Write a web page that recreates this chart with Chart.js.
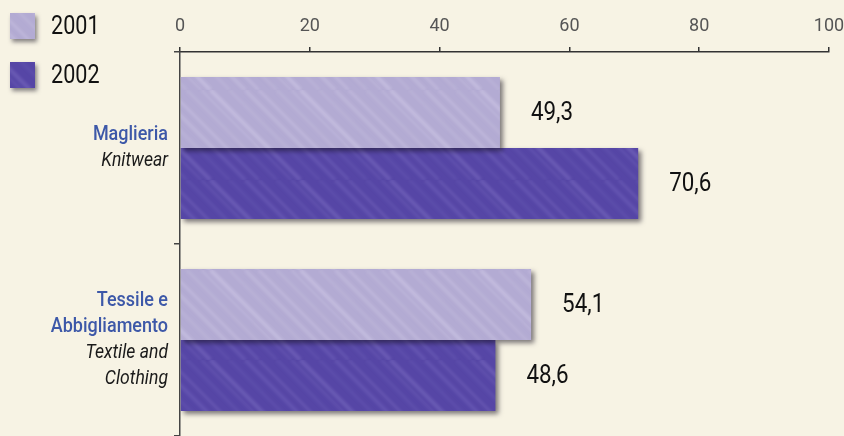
<!DOCTYPE html>
<html>
<head>
<meta charset="utf-8">
<script src="https://cdn.jsdelivr.net/npm/chart.js@4"></script>
<style>
  html, body { margin: 0; padding: 0; background: #f7f3e4; }
  #wrap { width: 844px; height: 436px; position: relative; }
</style>
</head>
<body>
<div id="wrap"><canvas id="c"></canvas></div>
<script>
// ---- data ----
const categories = ['Maglieria', 'Tessile e Abbigliamento'];
const categoryLabelsIt = [['Maglieria'], ['Tessile e', 'Abbigliamento']];
const categoryLabelsEn = [['Knitwear'], ['Textile and', 'Clothing']];
const seriesNames = ['2001', '2002'];
const values2001 = [49.3, 54.1];
const values2002 = [70.6, 48.6];
const xTicks = [0, 20, 40, 60, 80, 100];

// ---- styles ----
const FONT = 'Roboto, "DejaVu Sans Condensed", sans-serif';
const BG = '#f7f3e4';
const streakOffsets = [6, 19, 27, 44, 58, 70];
const streakWidths  = [3, 2, 4, 2.5, 3.5, 2];

function makePattern(base, light, alpha) {
  const w = 90, h = 90;
  const cv = document.createElement('canvas');
  cv.width = w; cv.height = h;
  const g = cv.getContext('2d');
  g.fillStyle = base;
  g.fillRect(0, 0, w, h);
  g.strokeStyle = light;
  g.filter = 'blur(1.5px)';
  for (let i = 0; i < streakOffsets.length; i++) {
    g.globalAlpha = alpha * (0.5 + 0.5 * ((i % 3) / 2));
    g.lineWidth = streakWidths[i];
    for (const shift of [-w, 0, w]) {
      const c = streakOffsets[i] * (w / 80) + shift;
      g.beginPath();
      g.moveTo(c, 0);
      g.lineTo(c + w, h);
      g.stroke();
    }
  }
  g.globalAlpha = 1;
  g.filter = 'none';
  const ctx = document.getElementById('c').getContext('2d');
  return ctx.createPattern(cv, 'repeat');
}

const pat2001 = makePattern('#b3abd3', '#d6d1ea', 0.45);
const pat2002 = makePattern('#5646a6', '#7d70c4', 0.5);
const colors = [pat2001, pat2002];

function drawCondensed(ctx, txt, x, y, sx) {
  ctx.save();
  ctx.translate(x, y);
  ctx.scale(sx, 1);
  ctx.fillText(txt, 0, 0);
  ctx.restore();
}

// ---- plugins ----
const bgPlugin = {
  id: 'bg',
  beforeDraw(chart) {
    const ctx = chart.ctx;
    ctx.save();
    ctx.fillStyle = BG;
    ctx.fillRect(0, 0, chart.width, chart.height);
    ctx.restore();
  }
};

const shadowPlugin = {
  id: 'shadow',
  beforeDatasetsDraw(chart) {
    const ctx = chart.ctx;
    ctx.save();
    ctx.shadowColor = 'rgba(20,15,30,0.55)';
    ctx.shadowBlur = 5;
    ctx.shadowOffsetX = 3;
    ctx.shadowOffsetY = 3;
  },
  afterDatasetsDraw(chart) {
    chart.ctx.restore();
  }
};

const labelPlugin = {
  id: 'labels',
  afterDatasetsDraw(chart) {
    const ctx = chart.ctx;
    ctx.save();
    ctx.fillStyle = '#111';
    ctx.font = '26px ' + FONT;
    ctx.textAlign = 'left';
    ctx.textBaseline = 'middle';
    chart.data.datasets.forEach((ds, di) => {
      const meta = chart.getDatasetMeta(di);
      meta.data.forEach((bar, i) => {
        const txt = ds.data[i].toFixed(1).replace('.', ',');
        drawCondensed(ctx, txt, bar.x + 31, bar.y + 1, 0.86);
      });
    });
    ctx.restore();
  }
};

const catLabelPlugin = {
  id: 'catLabels',
  afterDraw(chart) {
    const ctx = chart.ctx;
    const y = chart.scales.y;
    const xr = chart.chartArea.left - 12;
    ctx.save();
    ctx.textAlign = 'right';
    ctx.textBaseline = 'middle';
    const lh = 26;
    categories.forEach((c, i) => {
      const cy = y.getPixelForValue(i);
      const it = categoryLabelsIt[i], en = categoryLabelsEn[i];
      const n = it.length + en.length;
      let ly = cy - (n - 1) * lh / 2;
      ctx.font = '500 20px ' + FONT;
      ctx.fillStyle = '#3d58a8';
      it.forEach(t => { drawCondensed(ctx, t, xr, ly, 0.9); ly += lh; });
      ctx.font = 'italic 400 20px ' + FONT;
      ctx.fillStyle = '#1a1a1a';
      en.forEach(t => { drawCondensed(ctx, t, xr, ly, 0.88); ly += lh; });
    });
    ctx.restore();
  }
};

const legendPlugin = {
  id: 'customLegend',
  afterDraw(chart) {
    const ctx = chart.ctx;
    const items = [{ y: 13 }, { y: 62 }];
    chart.data.datasets.forEach((ds, i) => {
      const top = items[i].y;
      ctx.save();
      ctx.shadowColor = 'rgba(20,15,30,0.5)';
      ctx.shadowBlur = 4;
      ctx.shadowOffsetX = 2;
      ctx.shadowOffsetY = 3;
      ctx.fillStyle = ds.backgroundColor;
      ctx.fillRect(10, top, 25, 26);
      ctx.restore();
      ctx.save();
      ctx.fillStyle = '#111';
      ctx.font = '26px ' + FONT;
      ctx.textAlign = 'left';
      ctx.textBaseline = 'middle';
      drawCondensed(ctx, ds.label, 51, top + 14, 0.83);
      ctx.restore();
    });
  }
};

new Chart(document.getElementById('c'), {
  type: 'bar',
  data: {
    labels: categories,
    datasets: [
      { label: seriesNames[0], data: values2001, backgroundColor: colors[0], borderWidth: 0 },
      { label: seriesNames[1], data: values2002, backgroundColor: colors[1], borderWidth: 0 }
    ]
  },
  options: {
    indexAxis: 'y',
    responsive: true,
    maintainAspectRatio: false,
    animation: false,
    devicePixelRatio: 1,
    layout: { padding: { left: 172, right: 15, top: 0, bottom: 0 } },
    plugins: {
      legend: { display: false },
      tooltip: { enabled: false }
    },
    datasets: { bar: { categoryPercentage: 0.74, barPercentage: 1.0 } },
    scales: {
      x: {
        position: 'top',
        min: 0, max: 100,
        afterBuildTicks(scale) { scale.ticks = xTicks.map(v => ({ value: v })); },
        afterFit(scale) { scale.height = 52; scale.paddingLeft = 0; scale.paddingRight = 0; },
        ticks: {
          color: '#555',
          font: { family: FONT, size: 18 },
          padding: 10,
          maxRotation: 0
        },
        grid: { drawOnChartArea: false, tickLength: 5, color: '#333', lineWidth: 1.5 },
        border: { color: '#333', width: 1.5 }
      },
      y: {
        afterFit(scale) { scale.width = 8; },
        ticks: { display: false },
        grid: { drawOnChartArea: false, offset: true, tickLength: 6, color: '#444', lineWidth: 1.5 },
        border: { color: '#444', width: 1.5 }
      }
    }
  },
  plugins: [bgPlugin, shadowPlugin, labelPlugin, catLabelPlugin, legendPlugin]
});
</script>
</body>
</html>
